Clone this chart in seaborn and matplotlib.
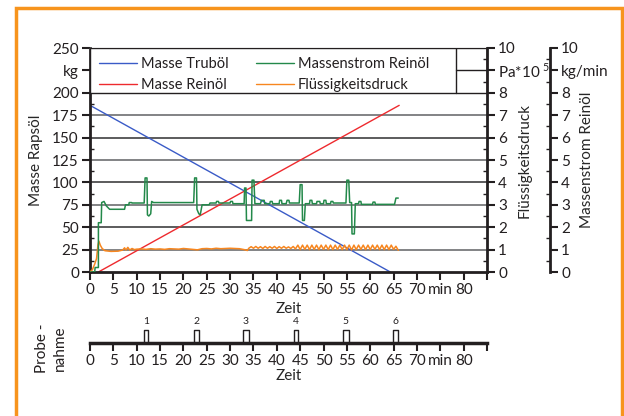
import matplotlib
matplotlib.use("Agg")
import matplotlib.pyplot as plt
import seaborn as sns
from matplotlib.patches import Rectangle
from matplotlib.lines import Line2D

# Masse Truboel / Masse Reinoel in kg over Zeit (min)
trub_t = [0, 64.3]
trub_kg = [186, 0]
rein_t = [1.8, 66.2]
rein_kg = [0, 186]

# Massenstrom Reinoel in kg/min
strom_t = [0, 1.0, 1.1, 1.8, 1.8, 2.4, 2.5, 3.0, 3.5, 4.2, 7.4, 7.6, 8.3, 8.4, 8.9, 9.0,
           11.6, 11.8, 12.2, 12.3, 12.6, 13.0, 13.2, 13.6, 22.2, 22.4, 22.8, 22.9, 23.3,
           23.6, 24.0, 25.5, 25.7, 27.0, 27.1, 27.5, 27.6, 30.0, 30.1, 30.5, 30.6, 33.0,
           33.1, 33.4, 33.5, 34.6, 34.7, 35.1, 35.3, 36.5, 36.7, 37.3, 37.4, 38.5, 38.6,
           39.0, 39.1, 40.5, 40.6, 41.0, 41.1, 42.0, 42.2, 42.6, 42.7, 44.8, 45.0, 45.4,
           45.5, 45.9, 46.1, 47.0, 47.1, 47.5, 47.6, 48.5, 48.6, 49.2, 49.3, 50.0, 50.1,
           50.5, 50.6, 51.5, 51.6, 52.0, 52.1, 54.8, 55.0, 55.4, 55.6, 56.0, 56.1, 56.6,
           56.8, 57.5, 57.6, 58.0, 58.1, 60.5, 60.6, 61.0, 61.1, 65.2, 65.5, 66.0]
strom_v = [0, 0, 0.2, 0.2, 2.2, 2.2, 3.1, 3.15, 2.95, 2.8, 2.8, 3.0, 3.0, 3.1, 3.1, 3.08,
           3.08, 4.2, 4.2, 2.55, 2.5, 2.6, 3.15, 3.1, 3.1, 4.2, 4.2, 2.8, 2.6,
           2.55, 3.0, 3.0, 3.08, 3.08, 3.15, 3.15, 3.08, 3.08, 3.15, 3.15, 3.05, 3.05,
           3.75, 3.75, 2.3, 2.3, 4.1, 4.1, 3.05, 3.05, 3.2, 3.2, 3.05, 3.05, 3.15,
           3.15, 3.05, 3.05, 3.2, 3.2, 3.05, 3.05, 3.2, 3.2, 3.08, 3.08, 3.9, 3.9,
           2.3, 2.3, 3.05, 3.05, 3.2, 3.2, 3.05, 3.05, 3.15, 3.15, 3.05, 3.05, 3.2,
           3.2, 3.05, 3.05, 3.15, 3.15, 3.08, 3.08, 4.1, 4.1, 3.1, 3.1, 1.7, 1.7,
           3.05, 3.05, 3.15, 3.15, 3.02, 3.02, 3.12, 3.12, 3.02, 3.02, 3.3, 3.3]

# Fluessigkeitsdruck in Pa*10^5
druck_t = [0, 0.5, 1.0, 1.4, 1.7, 1.9, 2.2, 2.6, 3.2, 4.5, 6.0, 7.0, 7.4, 7.7, 8.1, 8.5,
           9.0, 9.5, 10, 11, 12, 13, 14, 15, 16, 17, 18, 19, 20, 21, 22, 23, 24, 25, 26,
           27, 28, 29, 30, 31, 32, 33, 33.7,
           34.0, 34.5, 35.0, 35.5, 36.0, 36.5, 37.0, 37.5, 38.0, 38.5, 39.0, 39.5, 40.0,
           40.5, 41.0, 41.5, 42.0, 42.5, 43.0, 43.5, 44.0,
           44.5, 45.0, 45.5, 46.0, 46.5, 47.0, 47.5, 48.0, 48.5, 49.0, 49.5, 50.0, 50.5,
           51.0, 51.5, 52.0, 52.5, 53.0, 53.5, 54.0, 54.5, 55.0, 55.5, 56.0, 56.5, 57.0,
           57.5, 58.0, 58.5, 59.0, 59.5, 60.0, 60.5, 61.0, 61.5, 62.0, 62.5, 63.0, 63.5,
           64.0, 64.5, 65.0, 65.5, 66.0]
druck_v = [0, 0.1, 0.35, 0.6, 1.2, 1.38, 1.2, 1.05, 0.95, 0.92, 0.93, 0.98, 1.08, 0.98,
           1.1, 0.98, 1.05, 1.0, 1.02, 1.03, 1.01, 1.04, 1.02, 1.03, 1.01, 1.04, 1.03,
           1.02, 1.05, 1.03, 1.01, 0.99, 1.04, 1.05, 1.03, 1.06, 1.04, 1.05, 1.06, 1.05,
           1.04, 1.0, 0.96,
           1.06, 1.13, 1.06, 1.14, 1.06, 1.13, 1.05, 1.14, 1.06, 1.13, 1.06, 1.14, 1.05,
           1.13, 1.06, 1.14, 1.06, 1.12, 1.05, 1.14, 1.03,
           1.2, 1.0, 1.2, 1.01, 1.2, 1.0, 1.2, 1.01, 1.2, 1.0, 1.2, 1.01, 1.2,
           1.0, 1.2, 1.0, 1.2, 1.01, 1.2, 1.0, 1.2, 1.0, 1.2, 0.98, 1.2, 1.0,
           1.2, 1.01, 1.2, 1.0, 1.2, 1.0, 1.2, 1.01, 1.2, 1.0, 1.2, 1.0, 1.2,
           1.0, 1.2, 1.01, 1.15, 0.97]

# Probenahme
probe_start = [11.5, 22.2, 32.8, 43.6, 54.1, 64.9]
probe_end = [12.4, 23.3, 34.0, 44.6, 55.4, 66.0]
probe_nr = ['1', '2', '3', '4', '5', '6']

zeit_ticks = [0, 5, 10, 15, 20, 25, 30, 35, 40, 45, 50, 55, 60, 65, 70, 75, 80, 85]
zeit_labels = ['0', '5', '10', '15', '20', '25', '30', '35', '40', '45', '50', '55',
               '60', '65', '70', 'min', '80', '']
kg_ticks = [0, 25, 50, 75, 100, 125, 150, 175, 200, 225, 250]
kg_labels = ['0', '25', '50', '75', '100', '125', '150', '175', '200', 'kg', '250']
r_ticks = [0, 1, 2, 3, 4, 5, 6, 7, 8, 9, 10]
pa_labels = ['0', '1', '2', '3', '4', '5', '6', '7', '8', r'Pa*10 $^{\mathregular{5}}$', '10']
kgmin_labels = ['0', '1', '2', '3', '4', '5', '6', '7', '8', 'kg/min', '10']

sns.set_style('ticks')
plt.rcParams['font.family'] = ['Lato', 'DejaVu Sans']
plt.rcParams['font.size'] = 11
plt.rcParams['mathtext.fontset'] = 'custom'
plt.rcParams['mathtext.rm'] = 'Lato'
plt.rcParams['text.color'] = '#231f20'
plt.rcParams['xtick.color'] = '#231f20'
plt.rcParams['ytick.color'] = '#231f20'

BLUE = '#3a5bc7'
RED = '#ee2a2e'
GREEN = '#23894a'
ORANGE = '#f7861f'

fig = plt.figure(figsize=(6.24, 4.16), dpi=100)
W, H = 624, 416
ax = fig.add_axes([90 / W, 1 - 272 / H, 397 / W, 224 / H])
ax2 = ax.twinx()
ax3 = ax.twinx()

sns.lineplot(x=trub_t, y=trub_kg, ax=ax, color=BLUE, lw=1, sort=False, estimator=None)
sns.lineplot(x=rein_t, y=rein_kg, ax=ax, color=RED, lw=1, sort=False, estimator=None)
sns.lineplot(x=druck_t, y=druck_v, ax=ax2, color=ORANGE, lw=1.1, sort=False, estimator=None)
sns.lineplot(x=strom_t, y=strom_v, ax=ax3, color=GREEN, lw=1.1, sort=False, estimator=None)

ax.set_xlim(0, 85)
ax.set_ylim(0, 250)
ax2.set_ylim(0, 10)
ax3.set_ylim(0, 10)

# horizontal grid under the legend box
for v in [25, 50, 75, 100, 125, 150, 175]:
    ax.axhline(v, color='#6d6e71' if v % 50 else '#404041', lw=1.2, zorder=0)

ax.set_xticks(zeit_ticks)
ax.set_xticklabels(zeit_labels)
ax.set_yticks(kg_ticks)
ax.set_yticklabels(kg_labels)
ax.set_yticks([12.5 + 25 * i for i in range(10)], minor=True)
ax.tick_params(axis='both', which='major', direction='out', length=6, width=1.5, pad=2)
ax.tick_params(axis='y', which='minor', direction='in', length=3, width=1)
ax.set_xlabel('Zeit')
ax.xaxis.set_label_coords(0.5, -0.135)
ax.set_ylabel('Masse Rapsöl')
ax.yaxis.set_label_coords(-0.118, 0.5)
for s in ['left', 'bottom']:
    ax.spines[s].set_linewidth(2)
    ax.spines[s].set_color('#231f20')
ax.spines['top'].set_color('#9a9a9a')
ax.spines['top'].set_linewidth(1)
ax.spines['right'].set_visible(False)

for a, labels, name, xpos in [(ax2, pa_labels, 'Flüssigkeitsdruck', 1.078),
                              (ax3, kgmin_labels, 'Massenstrom Reinöl', 1.235)]:
    a.set_yticks(r_ticks)
    a.set_yticklabels(labels)
    a.set_yticks([0.5 + i for i in range(10)], minor=True)
    a.tick_params(axis='y', which='major', direction='out', length=6, width=1.5, pad=2)
    a.tick_params(axis='y', which='minor', direction='in', length=3, width=1)
    a.set_ylabel(name, rotation=90)
    a.yaxis.set_label_coords(xpos, 0.5)
    for s in ['left', 'top', 'bottom']:
        a.spines[s].set_visible(False)
    a.spines['right'].set_linewidth(2)
    a.spines['right'].set_color('#231f20')
ax3.spines['right'].set_position(('axes', (550 - 90) / 397))

# legend box
ax.add_patch(Rectangle((0, 0.8), 1, 0.2, transform=ax.transAxes, facecolor='white',
                       edgecolor='#231f20', lw=1, zorder=3))
cell_x = (456 - 90) / 397
ax.plot([cell_x, cell_x], [0.8, 1.0], transform=ax.transAxes, color='#231f20', lw=1, zorder=4)
ax.plot([cell_x, 1.0], [0.9, 0.9], transform=ax.transAxes, color='#231f20', lw=1, zorder=4)
handles = [Line2D([], [], color=BLUE, lw=1), Line2D([], [], color=RED, lw=1),
           Line2D([], [], color=GREEN, lw=1), Line2D([], [], color=ORANGE, lw=1)]
labels = ['Masse Truböl', 'Masse Reinöl', 'Massenstrom Reinöl', 'Flüssigkeitsdruck']
ax3.legend(handles, labels, ncol=2, loc='upper left', bbox_to_anchor=(0, 1),
           frameon=False, handlelength=2.6, handletextpad=0.25, columnspacing=1.9,
           labelspacing=0.45, borderpad=0.5, borderaxespad=0.15, fontsize=10.5)

# Probenahme
axp = fig.add_axes([90 / W, 1 - 343 / H, 397 / W, 25 / H])
px, py = [0], [0]
for s, e in zip(probe_start, probe_end):
    px += [s, s, e, e]
    py += [0, 1, 1, 0]
sns.lineplot(x=px, y=py, ax=axp, color='#231f20', lw=1, sort=False, estimator=None)
for s, e, n in zip(probe_start, probe_end, probe_nr):
    axp.text((s + e) / 2, 1.6, n, ha='center', va='center', fontsize=7.5)
axp.set_xlim(0, 85)
axp.set_ylim(0, 1.9)
axp.set_xticks(zeit_ticks)
axp.set_xticklabels(zeit_labels)
axp.set_yticks([])
axp.tick_params(axis='x', direction='out', length=6, width=1.5, pad=2)
axp.set_xlabel('Zeit', labelpad=1)
for s in ['left', 'top', 'right']:
    axp.spines[s].set_visible(False)
axp.spines['bottom'].set_linewidth(2.5)
axp.spines['bottom'].set_color('#231f20')
axp.patch.set_alpha(0)
fig.text(51 / W, 1 - 348 / H, 'Probe -\nnahme', rotation=90, ha='center', va='center',
         multialignment='center', linespacing=1.3)

# orange frame
fig.add_artist(Rectangle((16 / W, -0.02), 606 / W, 1.0 + 0.02 - 8 / H, transform=fig.transFigure,
                         fill=False, edgecolor='#f7941d', lw=2.5))

fig.savefig('out.png', dpi=100)
